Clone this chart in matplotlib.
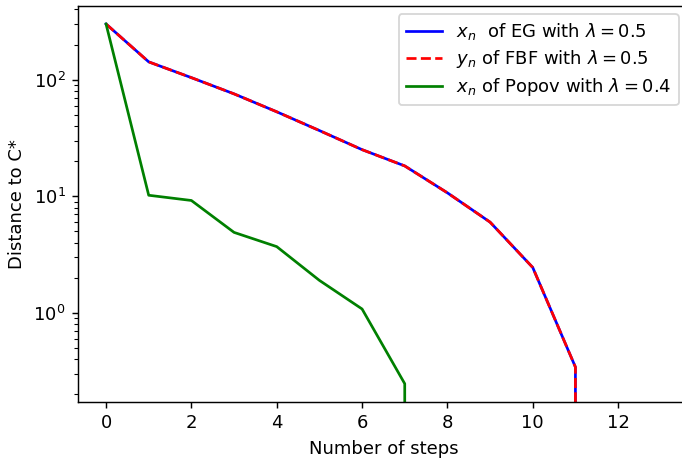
import matplotlib
matplotlib.use("Agg")
import matplotlib.pyplot as plt
import numpy as np

steps = list(range(14))
eg_x = [300, 142, 104, 75.5, 53, 36.6, 25.1, 18.2, 10.7, 6.0, 2.45, 0.343, 0, 0]
fbf_y = [300, 142, 104, 75.5, 53, 36.6, 25.1, 18.2, 10.7, 6.0, 2.45, 0.343, 0, 0]
popov_x = [300, 10.2, 9.2, 4.9, 3.7, 1.9, 1.08, 0.247, 0, 0, 0, 0, 0, 0]

labels = [r'$x_n$  of EG with $\lambda=0.5$',
          r'$y_n$ of FBF with $\lambda=0.5$',
          r'$x_n$ of Popov with $\lambda=0.4$']

DPI = 130
fig = plt.figure(figsize=(682 / DPI, 461 / DPI), dpi=DPI)
ax = fig.add_axes([78.3 / 682, 59.3 / 461, (688.5 - 78.3) / 682, (401.7 - 6) / 461])
ax.plot(steps, eg_x, color='blue', lw=1.5, label=labels[0])
ax.plot(steps, fbf_y, color='red', ls='--', lw=1.5, label=labels[1])
ax.plot(steps, popov_x, color='green', lw=1.5, label=labels[2])
ax.set_yscale('log')
ax.set_xlabel('Number of steps')
ax.set_ylabel('Distance to C*')
ax.legend(loc='upper right', bbox_to_anchor=(679 / 682, (461 - 14) / 461),
          bbox_transform=fig.transFigure, borderaxespad=0, labelspacing=0.33)
fig.savefig('out.png', dpi=DPI)
